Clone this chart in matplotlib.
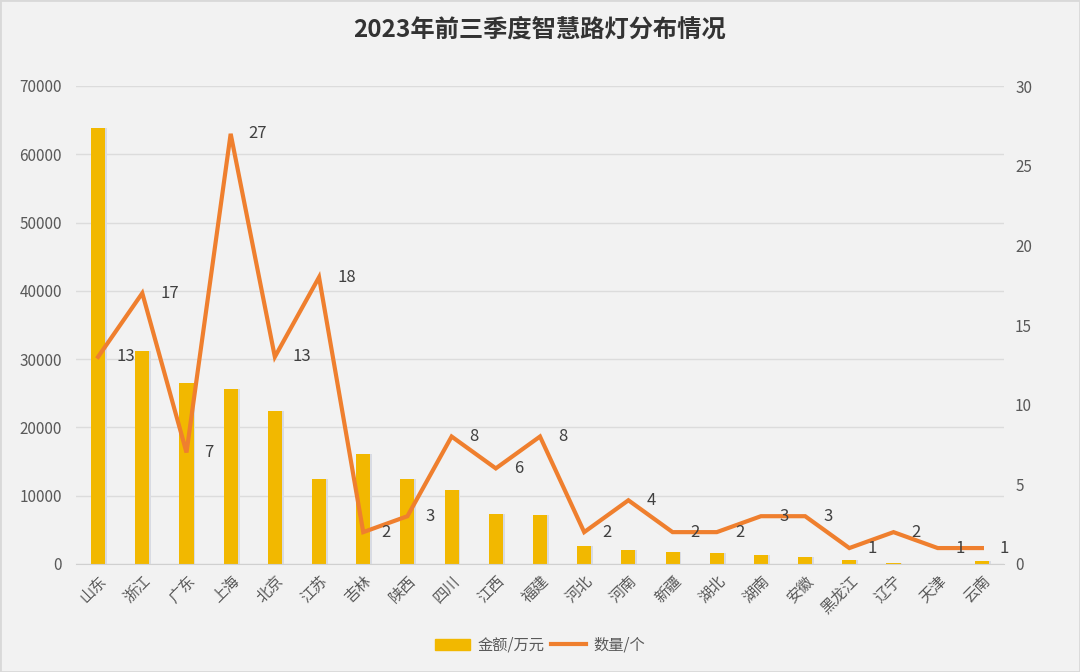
import numpy as np
import matplotlib
matplotlib.use("Agg")
import matplotlib.pyplot as plt
from matplotlib.patches import Rectangle

plt.rcParams['font.family'] = ['Noto Sans CJK SC', 'DejaVu Sans']

provinces = ['山东', '浙江', '广东', '上海', '北京', '江苏', '吉林', '陕西', '四川', '江西', '福建',
             '河北', '河南', '新疆', '湖北', '湖南', '安徽', '黑龙江', '辽宁', '天津', '云南']
amount = [63800, 31200, 26500, 25700, 22400, 12400, 16100, 12400, 10900, 7300, 7200,
          2600, 2100, 1750, 1600, 1300, 1000, 600, 200, 0, 400]
count = [13, 17, 7, 27, 13, 18, 2, 3, 8, 6, 8, 2, 4, 2, 2, 3, 3, 1, 2, 1, 1]

bg = '#f2f2f2'
bar_color = '#f2b800'
line_color = '#ef7f2e'
text_color = '#595959'

fig = plt.figure(figsize=(10.8, 6.72), dpi=100, facecolor=bg)
ax = fig.add_axes([76 / 1080, 1 - 564 / 672, 928 / 1080, 478 / 672])
ax.set_facecolor(bg)
x = np.arange(len(provinces))

# faint shadow under the bars
ax.bar(x + 0.04, amount, width=0.32, color='#d8dbe3', zorder=1)
ax.bar(x, amount, width=0.32, color=bar_color, zorder=2)
ax.set_ylim(0, 70000)
ax.set_xlim(-0.5, len(provinces) - 0.5)
ax.set_yticks(np.arange(0, 70001, 10000))
ax.grid(axis='y', color='#dcdcdc', linewidth=1, zorder=0)
ax.set_axisbelow(True)
for s in ax.spines.values():
    s.set_visible(False)
ax.spines['bottom'].set_visible(True)
ax.spines['bottom'].set_color('#d0d0d0')
ax.tick_params(axis='both', length=0, colors=text_color, labelsize=11)
ax.tick_params(axis='y', pad=10)
ax.tick_params(axis='x', pad=6)
ax.set_xticks(x)
ax.set_xticklabels(provinces, rotation=45, ha='right', rotation_mode='anchor', fontsize=11)

ax2 = ax.twinx()
ax2.plot(x, count, color=line_color, linewidth=3, zorder=3, solid_joinstyle='miter')
ax2.set_ylim(0, 30)
ax2.set_yticks(np.arange(0, 31, 5))
for s in ax2.spines.values():
    s.set_visible(False)
ax2.tick_params(axis='y', length=0, colors=text_color, labelsize=11, pad=8)
for xi, c in zip(x, count):
    ax2.annotate(str(c), (xi, c), xytext=(13, 0), textcoords='offset points',
                 ha='left', va='center', fontsize=12, color='#404040')

fig.text(0.5, 1 - 30 / 672, '2023年前三季度智慧路灯分布情况', ha='center', va='center',
         fontsize=17.5, fontweight='bold', color='#333333')

# legend
handles = [Rectangle((0, 0), 1, 1, color=bar_color),
           plt.Line2D([0], [0], color=line_color, linewidth=3)]
fig.legend(handles, ['金额/万元', '数量/个'], loc='center', bbox_to_anchor=(0.5, 1 - 645 / 672),
           ncol=2, frameon=False, fontsize=11, labelcolor=text_color,
           handlelength=2.3, columnspacing=0.4, handletextpad=0.5)

fig.patches.append(Rectangle((0, 0), 1, 1, transform=fig.transFigure, fill=False,
                             edgecolor='#d9d9d9', linewidth=2))
fig.savefig('out.png', dpi=100, facecolor=bg)
